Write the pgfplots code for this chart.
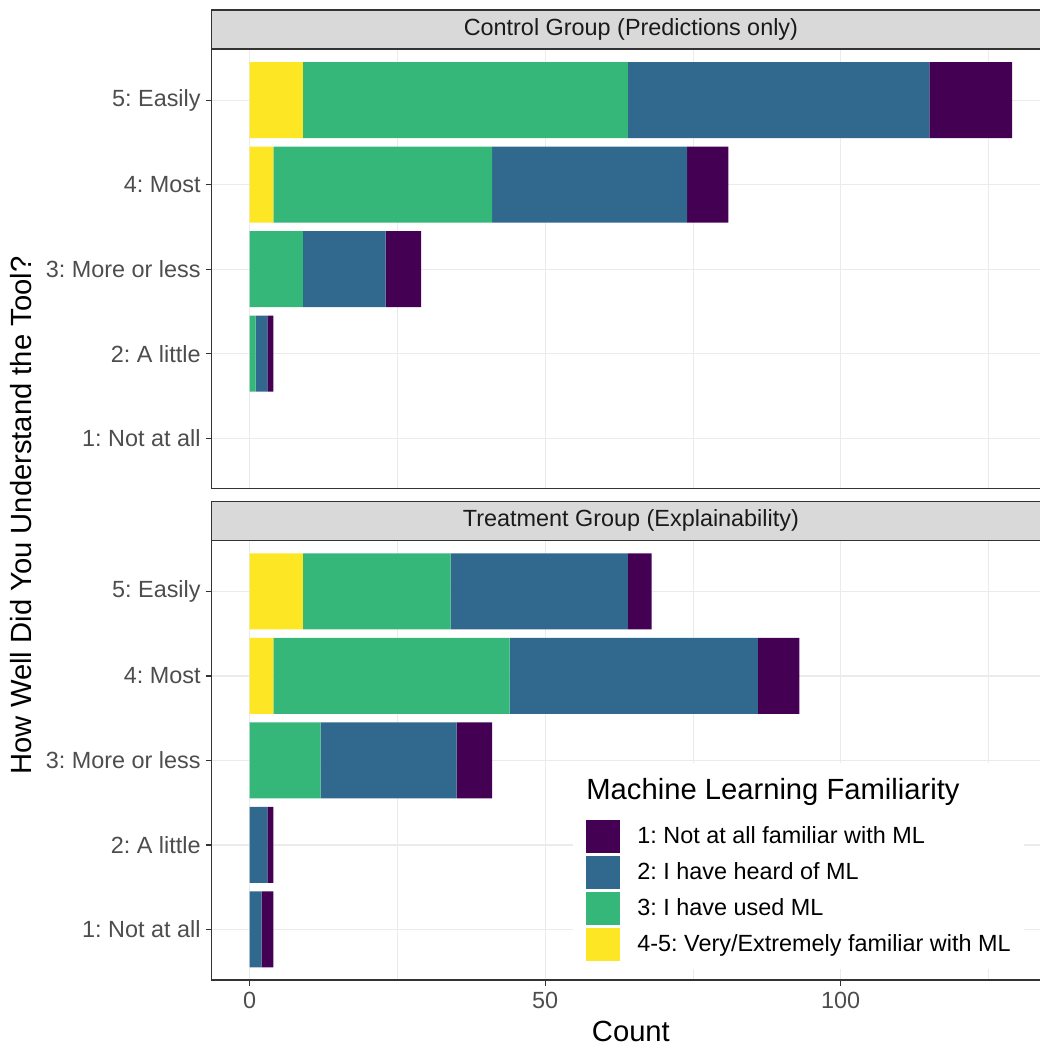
\documentclass[border=0pt]{standalone}
\usepackage{pgfplots}
\pgfplotsset{compat=1.18}
\usepackage{fontspec}
\setmainfont{Liberation Sans}
\frenchspacing
\definecolor{vpurple}{HTML}{440154}
\definecolor{vblue}{HTML}{31688E}
\definecolor{vgreen}{HTML}{35B779}
\definecolor{vyellow}{HTML}{FDE725}
\definecolor{gray85}{HTML}{D9D9D9}
\definecolor{gray20}{HTML}{333333}
\definecolor{gray30}{HTML}{4D4D4D}
\definecolor{gray10}{HTML}{1A1A1A}
\definecolor{ggrid}{HTML}{EBEBEB}
\newcommand{\ggsmall}{\fontsize{11.7}{14}\selectfont}
\newcommand{\ggbig}{\fontsize{14.6}{17}\selectfont}
\pgfplotsset{
  facet/.style={
    scale only axis, width=419.3pt, height=219.7pt,
    anchor=north west,
    xmin=-6.45, xmax=135.45, ymin=0.4, ymax=5.6,
    xbar stacked, bar width=0.9,
    ytick={1,2,3,4,5},
    yticklabels={1: Not at all, 2: A little, 3: More or less, 4: Most, 5: Easily},
    xtick={0,50,100}, minor xtick={25,75,125},
    ymajorgrids, xmajorgrids, xminorgrids,
    major grid style={draw=ggrid, line width=0.6pt},
    minor grid style={draw=ggrid, line width=0.3pt},
    axis line style={draw=gray20, line width=0.6pt},
    tick style={draw=gray20, line width=0.6pt},
    tick align=outside, major tick length=3pt, minor tick length=0pt,
    xtick pos=bottom, ytick pos=left,
    yticklabel style={font=\ggsmall, text=gray30, anchor=east, inner sep=0pt, xshift=-2.3pt},
    xticklabel style={font=\ggsmall, text=gray30, anchor=north, inner sep=0pt, yshift=-3pt},
    title style={at={(0.5,1)}, anchor=south, inner sep=0pt, yshift=-6pt,
      minimum width=419.3pt, minimum height=19.5pt, fill=gray85, draw=gray20,
      line width=0.6pt, font=\ggsmall, text=gray10},
    every axis plot/.append style={draw=none},
  }
}
\begin{document}
\begin{tikzpicture}
\path[use as bounding box] (0,0) rectangle (520pt,-523pt);
\clip (0,0) rectangle (520pt,-523pt);
% ---------- Control group ----------
\begin{axis}[facet, at={(105.8pt,-24.75pt)},
  title={Control Group (Predictions only)},
  xticklabels={}, xtick style={draw=none}]
\addplot[fill=vyellow] coordinates {(9,5) (4,4) (0,3) (0,2) (0,1)};
\addplot[fill=vgreen]  coordinates {(55,5) (37,4) (9,3) (1,2) (0,1)};
\addplot[fill=vblue]   coordinates {(51,5) (33,4) (14,3) (2,2) (0,1)};
\addplot[fill=vpurple] coordinates {(14,5) (7,4) (6,3) (1,2) (0,1)};
\end{axis}
% ---------- Treatment group ----------
\begin{axis}[facet, at={(105.8pt,-270.35pt)},
  title={Treatment Group (Explainability)},
  xticklabels={0,50,100},
  xlabel={Count},
  xlabel style={at={(axis description cs:0.5,0)}, anchor=base, inner sep=0pt, yshift=-30.85pt, font=\ggbig, text=black},
  reverse legend, legend cell align=left,
  legend style={at={(0.431,0.3829)}, anchor=north west, draw=none, fill=white,
    inner xsep=6.5pt, inner ysep=4pt, row sep=1.5pt,
    nodes={inner sep=0pt, font=\ggsmall, text=black},
    /tikz/every odd column/.append style={column sep=8.5pt}}]
\addplot[fill=vyellow, legend image code/.code={\fill[vyellow] (0pt,-8.25pt) rectangle (17pt,8.25pt);}]
  coordinates {(9,5) (4,4) (0,3) (0,2) (0,1)};
\addplot[fill=vgreen, legend image code/.code={\fill[vgreen] (0pt,-8.25pt) rectangle (17pt,8.25pt);}]
  coordinates {(25,5) (40,4) (12,3) (0,2) (0,1)};
\addplot[fill=vblue, legend image code/.code={\fill[vblue] (0pt,-8.25pt) rectangle (17pt,8.25pt);}]
  coordinates {(30,5) (42,4) (23,3) (3,2) (2,1)};
\addplot[fill=vpurple, legend image code/.code={\fill[vpurple] (0pt,-8.25pt) rectangle (17pt,8.25pt);}]
  coordinates {(4,5) (7,4) (6,3) (1,2) (2,1)};
\legend{4-5: Very/Extremely familiar with ML, 3: I have used ML, 2: I have heard of ML, 1: Not at all familiar with ML}
\end{axis}
\fill[white] (286.5pt,-381.5pt) rectangle (512pt,-407pt);
\node[anchor=base west, inner sep=0pt, font=\ggbig] at (293pt,-399.65pt) {Machine Learning Familiarity};
\node[rotate=90, anchor=base, inner sep=0pt, font=\ggbig] at (16pt,-257.75pt) {How Well Did You Understand the Tool?};
\end{tikzpicture}
\end{document}
